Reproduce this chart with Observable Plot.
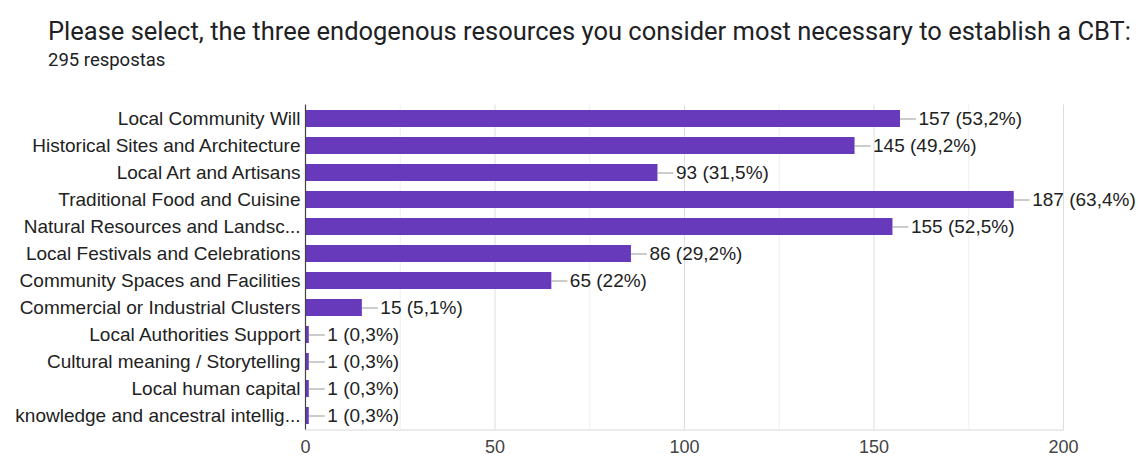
<!DOCTYPE html>
<html>
<head>
<meta charset="utf-8">
<script src="https://cdn.jsdelivr.net/npm/d3@7"></script>
<script src="https://cdn.jsdelivr.net/npm/@observablehq/plot@0.6"></script>
<style>
  html, body { margin: 0; padding: 0; background: #fff; }
  body { width: 1140px; height: 462px; overflow: hidden; position: relative; }
  #title { position: absolute; left: 48px; top: 16px; font-family: Roboto, "Liberation Sans", sans-serif; font-size: 25.5px; line-height: 30px; color: #202124; white-space: nowrap; }
  #subtitle { position: absolute; left: 48px; top: 49px; font-family: Roboto, "Liberation Sans", sans-serif; font-size: 18.5px; line-height: 22px; color: #202124; }
  #chart { position: absolute; left: 0; top: 80px; }
</style>
</head>
<body>
<div id="title">Please select, the three endogenous resources you consider most necessary to establish a CBT:</div>
<div id="subtitle">295 respostas</div>
<div id="chart"></div>
<script>
const categories = [
  "Local Community Will",
  "Historical Sites and Architecture",
  "Local Art and Artisans",
  "Traditional Food and Cuisine",
  "Natural Resources and Landsc...",
  "Local Festivals and Celebrations",
  "Community Spaces and Facilities",
  "Commercial or Industrial Clusters",
  "Local Authorities Support",
  "Cultural meaning / Storytelling",
  "Local human capital",
  "knowledge and ancestral intellig..."
];
const counts = [157, 145, 93, 187, 155, 86, 65, 15, 1, 1, 1, 1];
const percents = ["53,2%", "49,2%", "31,5%", "63,4%", "52,5%", "29,2%", "22%", "5,1%", "0,3%", "0,3%", "0,3%", "0,3%"];
const xTicks = [0, 50, 100, 150, 200];
const minorTicks = [25, 75, 125, 175];

const data = categories.map((name, i) => ({name, value: counts[i], label: `${counts[i]} (${percents[i]})`}));

const width = 1140, height = 382;
const marginLeft = 305, marginRight = 77;
const pxPerUnit = (width - marginLeft - marginRight) / 200;
const connector = 16 / pxPerUnit;

const chart = Plot.plot({
  width, height,
  marginLeft, marginRight,
  marginTop: 24.5, marginBottom: 32.5,
  style: {fontFamily: "'Liberation Sans', Arial, sans-serif", fontSize: "19px", color: "#222", background: "#fff"},
  x: {domain: [0, 200], ticks: xTicks, label: null},
  y: {domain: categories, label: null, paddingInner: 0.38, paddingOuter: 0.19},
  marks: [
    Plot.ruleX(minorTicks, {stroke: "#efefef", strokeWidth: 1}),
    Plot.ruleX(xTicks.slice(1), {stroke: "#dedede", strokeWidth: 1}),
    Plot.frame({anchor: "bottom", stroke: "#d8d8d8"}),
    Plot.barX(data, {y: "name", x: "value", fill: "#6739bb"}),
    Plot.ruleY(data, {y: "name", x1: "value", x2: d => d.value + connector, stroke: "#999", strokeWidth: 1}),
    Plot.text(data, {y: "name", x: "value", text: "label", textAnchor: "start", dx: 18, fill: "#222", fontSize: 19}),
    Plot.ruleX([0], {stroke: "#444", strokeWidth: 1.2}),
    Plot.axisY({tickSize: 0, tickPadding: 5, fontSize: 19, fill: "#222"}),
    Plot.axisX({ticks: xTicks, tickSize: 0, tickPadding: 10, fontSize: 18, fill: "#444"})
  ]
});
document.getElementById("chart").appendChild(chart);
</script>
</body>
</html>
